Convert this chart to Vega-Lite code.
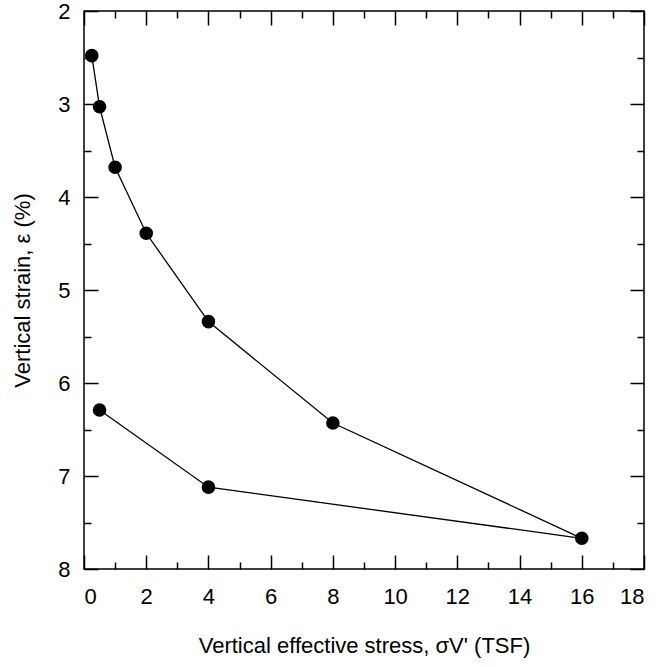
{
  "$schema": "https://vega.github.io/schema/vega-lite/v6.json",
  "width": 560,
  "height": 558,
  "autosize": {"type": "none"},
  "padding": {"left": 84, "top": 11, "right": 15, "bottom": 98},
  "background": "white",
  "config": {
    "view": {"stroke": "black", "strokeWidth": 1.5},
    "font": "Liberation Sans",
    "axis": {
      "grid": false,
      "domain": false,
      "tickColor": "black",
      "tickWidth": 1.5,
      "labelFont": "Liberation Sans",
      "labelFontSize": 22,
      "labelColor": "black",
      "titleFont": "Liberation Sans",
      "titleFontWeight": "normal",
      "titleColor": "black"
    }
  },
  "data": {
    "values": [
      {"i": 1, "stress": 0.25, "strain": 2.48},
      {"i": 2, "stress": 0.5, "strain": 3.03},
      {"i": 3, "stress": 1, "strain": 3.68},
      {"i": 4, "stress": 2, "strain": 4.39},
      {"i": 5, "stress": 4, "strain": 5.34},
      {"i": 6, "stress": 8, "strain": 6.43},
      {"i": 7, "stress": 16, "strain": 7.67},
      {"i": 8, "stress": 4, "strain": 7.12},
      {"i": 9, "stress": 0.5, "strain": 6.29}
    ]
  },
  "resolve": {"axis": {"x": "independent", "y": "independent"}},
  "layer": [
    {
      "mark": {"type": "line", "color": "black", "strokeWidth": 1.3},
      "encoding": {
        "x": {
          "field": "stress", "type": "quantitative",
          "scale": {"domain": [0, 18], "nice": false},
          "axis": {
            "orient": "bottom",
            "values": [0,1,2,3,4,5,6,7,8,9,10,11,12,13,14,15,16,17,18],
            "tickSize": {"condition": {"test": "datum.value % 2 === 0", "value": -14}, "value": -7},
            "labelExpr": "datum.value % 2 === 0 ? format(datum.value, 'd') : ''",
            "labelPadding": 31,
            "title": "Vertical effective stress, σV' (TSF)",
            "titleFontSize": 22,
            "titlePadding": 28
          }
        },
        "y": {
          "field": "strain", "type": "quantitative",
          "scale": {"domain": [2, 8], "nice": false, "reverse": true, "zero": false},
          "axis": {
            "orient": "left",
            "values": [2,2.5,3,3.5,4,4.5,5,5.5,6,6.5,7,7.5,8],
            "tickSize": {"condition": {"test": "datum.value % 1 === 0", "value": -14}, "value": -7},
            "labelExpr": "datum.value % 1 === 0 ? format(datum.value, 'd') : ''",
            "labelPadding": 28,
            "title": "Vertical strain, ε (%)",
            "titleFontSize": 22,
            "titlePadding": 23
          }
        },
        "order": {"field": "i", "type": "quantitative"}
      }
    },
    {
      "mark": {"type": "point", "filled": true, "color": "black", "size": 185, "opacity": 1},
      "encoding": {
        "x": {
          "field": "stress", "type": "quantitative",
          "scale": {"domain": [0, 18], "nice": false},
          "axis": {
            "orient": "top",
            "values": [0,1,2,3,4,5,6,7,8,9,10,11,12,13,14,15,16,17,18],
            "tickSize": {"condition": {"test": "datum.value % 2 === 0", "value": -14}, "value": -7},
            "labels": false,
            "title": null
          }
        },
        "y": {
          "field": "strain", "type": "quantitative",
          "scale": {"domain": [2, 8], "nice": false, "reverse": true, "zero": false},
          "axis": {
            "orient": "right",
            "values": [2,2.5,3,3.5,4,4.5,5,5.5,6,6.5,7,7.5,8],
            "tickSize": {"condition": {"test": "datum.value % 1 === 0", "value": -14}, "value": -7},
            "labels": false,
            "title": null
          }
        }
      }
    }
  ]
}
